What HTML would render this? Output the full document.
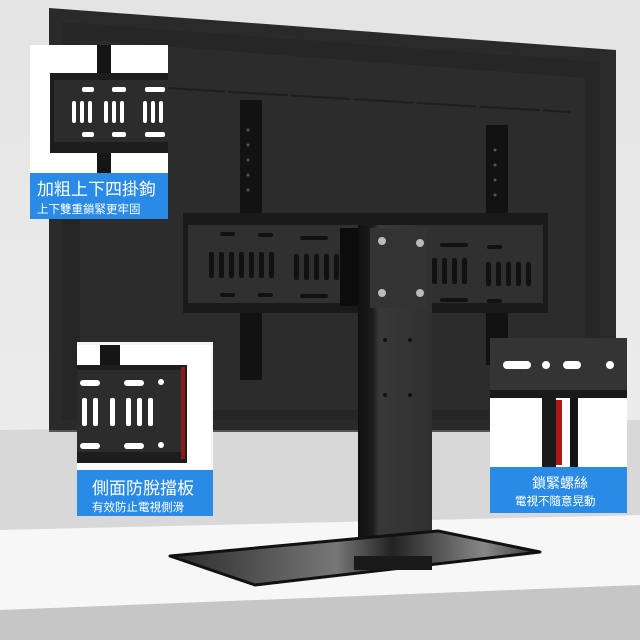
<!DOCTYPE html>
<html><head><meta charset="utf-8"><style>
html,body{margin:0;padding:0;background:#fff}
svg{display:block}
text{font-family:"Liberation Sans","Noto Sans CJK TC",sans-serif}
</style></head><body>
<svg width="640" height="640" viewBox="0 0 640 640" xmlns="http://www.w3.org/2000/svg">
<defs>
<linearGradient id="wall" x1="0" y1="0" x2="0" y2="1"><stop offset="0" stop-color="#e4e4e4"/><stop offset="1" stop-color="#f0f0f0"/></linearGradient>
<linearGradient id="glass" x1="0" y1="0" x2="1" y2="0"><stop offset="0" stop-color="#2a2a2a"/><stop offset="0.45" stop-color="#777"/><stop offset="0.6" stop-color="#222"/><stop offset="0.85" stop-color="#888"/><stop offset="1" stop-color="#333"/></linearGradient>
<linearGradient id="col" x1="0" y1="0" x2="1" y2="0"><stop offset="0" stop-color="#111"/><stop offset="0.2" stop-color="#1c1c1c"/><stop offset="0.28" stop-color="#383838"/><stop offset="1" stop-color="#303030"/></linearGradient>
</defs>
<rect width="640" height="640" fill="url(#wall)"/>
<polygon points="0,430 640,420 640,520 0,530" fill="#d8d8d8"/>
<polygon points="0,530 640,515 640,590 0,610" fill="#f7f7f7"/>
<polygon points="0,610 640,585 640,640 0,640" fill="#c6c6c6"/>
<!-- TV -->
<polygon points="49,8 616,50 616,432 49,432" fill="#2a2a2a"/>
<polygon points="62,22 600,62 600,420 62,420" fill="#262626"/>
<polygon points="80,40 585,78 585,410 80,410" fill="#2c2c2c"/>
<line x1="165" y1="88" x2="570" y2="112" stroke="#1e1e1e" stroke-width="2" stroke-dasharray="60 3"/>
<line x1="49" y1="431" x2="616" y2="431" stroke="#555" stroke-width="2"/>
<!-- vertical bars -->
<rect x="240" y="100" width="22" height="280" fill="#121212"/>
<rect x="486" y="125" width="22" height="240" fill="#121212"/>
<g fill="#555"><circle cx="248" cy="130" r="1.5"/><circle cx="248" cy="145" r="1.5"/><circle cx="248" cy="160" r="1.5"/><circle cx="248" cy="175" r="1.5"/><circle cx="248" cy="190" r="1.5"/><circle cx="495" cy="150" r="1.5"/><circle cx="495" cy="165" r="1.5"/><circle cx="495" cy="180" r="1.5"/><circle cx="495" cy="195" r="1.5"/></g>
<!-- horizontal plate -->
<rect x="183" y="213" width="365" height="100" fill="#1a1a1a"/>
<rect x="188" y="225" width="355" height="78" fill="#303030"/>
<g fill="#111">
<rect x="209" y="252" width="5" height="26" rx="2"/><rect x="219" y="252" width="5" height="26" rx="2"/><rect x="229" y="252" width="5" height="26" rx="2"/><rect x="239" y="252" width="5" height="26" rx="2"/><rect x="249" y="252" width="5" height="26" rx="2"/><rect x="259" y="252" width="5" height="26" rx="2"/><rect x="269" y="252" width="5" height="26" rx="2"/>
<rect x="294" y="254" width="5" height="26" rx="2"/><rect x="304" y="254" width="5" height="26" rx="2"/><rect x="314" y="254" width="5" height="26" rx="2"/><rect x="324" y="254" width="5" height="26" rx="2"/><rect x="334" y="254" width="5" height="26" rx="2"/><rect x="344" y="254" width="5" height="26" rx="2"/>
<rect x="432" y="258" width="5" height="26" rx="2"/><rect x="442" y="258" width="5" height="26" rx="2"/><rect x="452" y="258" width="5" height="26" rx="2"/><rect x="462" y="258" width="5" height="26" rx="2"/>
<rect x="486" y="262" width="5" height="24" rx="2"/><rect x="496" y="262" width="5" height="24" rx="2"/><rect x="506" y="262" width="5" height="24" rx="2"/><rect x="516" y="262" width="5" height="24" rx="2"/><rect x="526" y="262" width="5" height="24" rx="2"/>
<rect x="220" y="232" width="15" height="4" rx="2"/><rect x="258" y="233" width="15" height="4" rx="2"/><rect x="300" y="236" width="28" height="4" rx="2"/>
<rect x="220" y="293" width="15" height="4" rx="2"/><rect x="258" y="293" width="15" height="4" rx="2"/><rect x="300" y="294" width="28" height="4" rx="2"/>
<rect x="440" y="243" width="28" height="4" rx="2"/><rect x="440" y="298" width="28" height="4" rx="2"/><rect x="487" y="245" width="15" height="4" rx="2"/><rect x="487" y="299" width="15" height="4" rx="2"/>
</g>
<rect x="340" y="228" width="22" height="78" fill="#0c0c0c"/>
<!-- column -->
<rect x="358" y="225" width="74" height="340" fill="url(#col)"/>
<rect x="370" y="228" width="57" height="80" fill="#333"/>
<g fill="#bbb"><circle cx="382" cy="241" r="4"/><circle cx="420" cy="243" r="4"/><circle cx="382" cy="293" r="4"/><circle cx="420" cy="293" r="4"/></g>
<g fill="#111"><circle cx="385" cy="340" r="2"/><circle cx="385" cy="395" r="2"/><circle cx="410" cy="340" r="2"/><circle cx="410" cy="395" r="2"/></g>
<!-- base -->
<polygon points="170,556 438,531 540,552 255,585" fill="url(#glass)" stroke="#111" stroke-width="3" stroke-linejoin="round"/>
<rect x="354" y="556" width="78" height="14" fill="#1a1a1a"/>
<!-- top-left inset -->
<rect x="30" y="45" width="138" height="128" fill="#fff"/>
<rect x="97" y="45" width="14" height="128" fill="#151515"/>
<rect x="50" y="73" width="118" height="80" fill="#1d1d1d"/>
<rect x="54" y="80" width="114" height="62" fill="#2c2c2c"/>
<g fill="#fff"><rect x="72" y="101" width="4" height="22" rx="2"/><rect x="80" y="101" width="4" height="22" rx="2"/><rect x="88" y="101" width="4" height="22" rx="2"/><rect x="104" y="101" width="4" height="22" rx="2"/><rect x="112" y="101" width="4" height="22" rx="2"/><rect x="120" y="101" width="4" height="22" rx="2"/><rect x="143" y="101" width="4" height="22" rx="2"/><rect x="151" y="101" width="4" height="22" rx="2"/><rect x="159" y="101" width="4" height="22" rx="2"/>
<rect x="82" y="87" width="12" height="5" rx="2"/><rect x="112" y="87" width="14" height="5" rx="2"/><rect x="145" y="87" width="20" height="5" rx="2"/><rect x="82" y="132" width="12" height="5" rx="2"/><rect x="112" y="132" width="14" height="5" rx="2"/><rect x="145" y="132" width="20" height="5" rx="2"/></g>
<rect x="30" y="173" width="138" height="46" fill="#2a8be6"/>
<text x="37" y="195" font-size="17" fill="#fff">加粗上下四掛鉤</text>
<text x="37" y="213" font-size="11.5" fill="#fff">上下雙重鎖緊更牢固</text>
<!-- left-bottom inset -->
<rect x="77" y="342" width="136" height="174" fill="#f5f5f5"/>
<rect x="77" y="345" width="134" height="125" fill="#fff"/>
<rect x="100" y="345" width="20" height="25" fill="#151515"/>
<rect x="77" y="365" width="110" height="98" fill="#1d1d1d"/>
<rect x="77" y="370" width="106" height="82" fill="#2c2c2c"/>
<rect x="181" y="367" width="4" height="92" fill="#8b1a1a"/>
<g fill="#fff"><rect x="82" y="398" width="5" height="28" rx="2"/><rect x="93" y="398" width="5" height="28" rx="2"/><rect x="110" y="398" width="5" height="28" rx="2"/><rect x="126" y="398" width="5" height="28" rx="2"/><rect x="137" y="398" width="5" height="28" rx="2"/><rect x="148" y="398" width="5" height="28" rx="2"/>
<rect x="80" y="380" width="20" height="6" rx="3"/><rect x="124" y="380" width="20" height="6" rx="3"/><circle cx="161" cy="382" r="3"/><rect x="80" y="443" width="20" height="6" rx="3"/><rect x="124" y="443" width="20" height="6" rx="3"/><circle cx="161" cy="445" r="3"/></g>
<rect x="77" y="470" width="136" height="46" fill="#2a8be6"/>
<text x="92" y="494" font-size="17" fill="#fff">側面防脫擋板</text>
<text x="92" y="511" font-size="11.5" fill="#fff">有效防止電視側滑</text>
<!-- right inset -->
<rect x="490" y="338" width="137" height="174" fill="#fff"/>
<rect x="490" y="338" width="137" height="60" fill="#343434"/>
<rect x="490" y="390" width="137" height="8" fill="#1a1a1a"/>
<g fill="#fff"><rect x="503" y="361" width="28" height="8" rx="4"/><circle cx="546" cy="365" r="4"/><rect x="563" y="361" width="18" height="8" rx="4"/><circle cx="610" cy="365" r="4"/></g>
<rect x="570" y="398" width="8" height="70" fill="#141414"/>
<rect x="542" y="398" width="14" height="70" fill="#1a1a1a"/>
<rect x="556" y="400" width="6" height="65" fill="#b01818"/>
<rect x="490" y="467" width="137" height="46" fill="#2a8be6"/>
<text x="532" y="488" font-size="14" fill="#fff">鎖緊螺絲</text>
<text x="515" y="505" font-size="11.5" fill="#fff">電視不隨意晃動</text>
</svg>
</body></html>
